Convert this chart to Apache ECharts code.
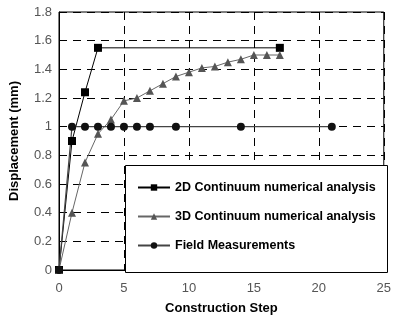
<!DOCTYPE html>
<html><head><meta charset="utf-8">
<script src="https://cdn.jsdelivr.net/npm/echarts@6/dist/echarts.min.js"></script>
<style>html,body{margin:0;padding:0;background:#fff}#c{width:394px;height:320px}</style>
</head><body><div id="c"></div>
<script>
var steps2D = [0, 1, 2, 3, 17];
var disp2D = [0, 0.9, 1.24, 1.55, 1.55];
var steps3D = [0, 1, 2, 3, 4, 5, 6, 7, 8, 9, 10, 11, 12, 13, 14, 15, 16, 17];
var disp3D = [0, 0.4, 0.75, 0.95, 1.05, 1.18, 1.2, 1.25, 1.3, 1.35, 1.38, 1.41, 1.42, 1.45, 1.47, 1.5, 1.5, 1.5];
var stepsField = [0, 1, 2, 3, 4, 5, 6, 7, 9, 14, 21];
var dispField = [0, 1, 1, 1, 1, 1, 1, 1, 1, 1, 1];
var names = ['2D Continuum numerical analysis', '3D Continuum numerical analysis', 'Field Measurements'];

function pairs(xs, ys) { return xs.map(function (x, i) { return [x, ys[i]]; }); }

var chart = echarts.init(document.getElementById('c'), null, { renderer: 'canvas' });
var font = '"Liberation Sans", Arial, sans-serif';
chart.setOption({
  animation: false,
  grid: { left: 59, right: 6, top: 12, bottom: 47, show: true, borderColor: '#000', borderWidth: 1, backgroundColor: 'transparent' },
  xAxis: {
    type: 'value', min: 0, max: 25, interval: 5,
    name: 'Construction Step', nameLocation: 'middle', nameGap: 32,
    nameTextStyle: { fontFamily: font, fontWeight: 'bold', fontSize: 13, color: '#000' },
    axisLine: { lineStyle: { color: '#000', width: 1 } },
    axisTick: { show: false },
    axisLabel: { fontFamily: font, fontSize: 13, color: '#555', margin: 12 },
    splitLine: { show: true, lineStyle: { color: '#000', type: [8, 6], width: 1 } }
  },
  yAxis: {
    type: 'value', min: 0, max: 1.8, interval: 0.2,
    name: 'Displacement (mm)', nameLocation: 'middle', nameGap: 38,
    nameTextStyle: { fontFamily: font, fontWeight: 'bold', fontSize: 13, color: '#000' },
    axisLine: { show: true, lineStyle: { color: '#000', width: 1 } },
    axisTick: { show: false },
    axisLabel: { fontFamily: font, fontSize: 13, color: '#555', margin: 7 },
    splitLine: { show: true, lineStyle: { color: '#000', type: [8, 6], width: 1 } }
  },
  graphic: [{
    type: 'rect', z: 10,
    shape: { x: 125.5, y: 165.5, width: 262, height: 107 },
    style: { fill: '#fff', stroke: '#000', lineWidth: 1 }
  }],
  legend: {
    z: 20, orient: 'vertical', left: 132, top: 176, itemGap: 16,
    itemWidth: 32, itemHeight: 8,
    textStyle: { fontFamily: font, fontWeight: 'bold', fontSize: 12.5, color: '#000' },
    data: names
  },
  series: [
    { name: names[0], type: 'line', data: pairs(steps2D, disp2D), symbol: 'rect', symbolSize: 8, clip: false,
      lineStyle: { color: '#000', width: 1 }, itemStyle: { color: '#000' } },
    { name: names[1], type: 'line', data: pairs(steps3D, disp3D), symbol: 'triangle', symbolSize: 8, clip: false,
      lineStyle: { color: '#666', width: 1 }, itemStyle: { color: '#555' } },
    { name: names[2], type: 'line', data: pairs(stepsField, dispField), symbol: 'circle', symbolSize: 8, clip: false,
      lineStyle: { color: '#444', width: 1.2 }, itemStyle: { color: '#111' } }
  ]
});
</script></body></html>
